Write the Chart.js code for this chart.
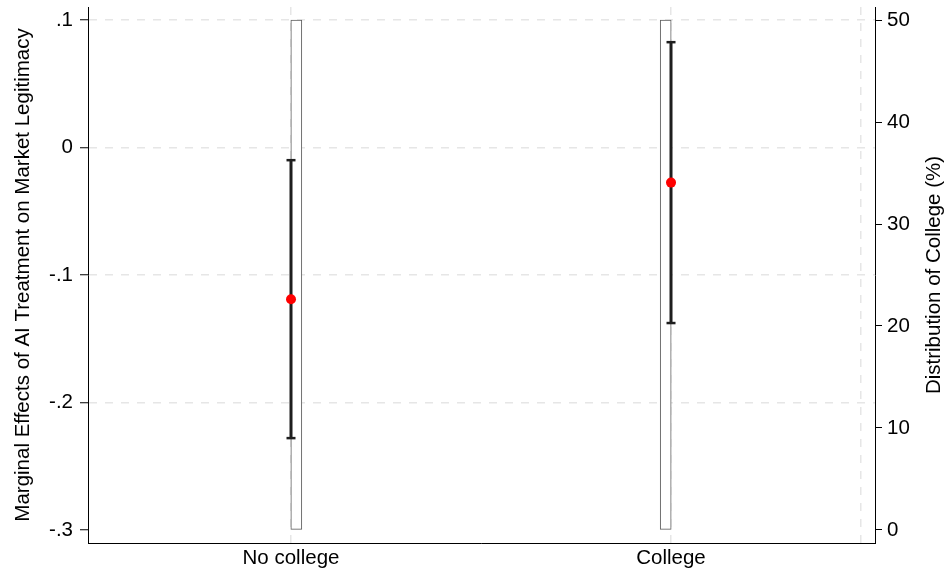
<!DOCTYPE html>
<html>
<head>
<meta charset="utf-8">
<script src="https://cdn.jsdelivr.net/npm/chart.js@4"></script>
<style>
  html, body { margin: 0; padding: 0; background: #fff; }
  canvas { display: block; }
</style>
</head>
<body>
<canvas id="chart" width="951" height="571"></canvas>
<script>
// Marginal effects by education group, with the sample share of each group
const categories = ['No college', 'College'];
const categoryX = [0, 1];
const estimates = [-0.119, -0.0275];
const ciLower = [-0.228, -0.1377];
const ciUpper = [-0.0099, 0.0827];

// Share of respondents in each group (%), drawn as thin histogram bars
const histX = [0.014, 0.986];
const sharePct = [50, 50];

// Axis ticks
const effectTicks = [-0.3, -0.2, -0.1, 0, 0.1];
const effectTickLabels = ['-.3', '-.2', '-.1', '0', '.1'];
const shareTicks = [0, 10, 20, 30, 40, 50];
const xGridValues = [0, 1, 1.5];
const xTickLabels = ['No college', 'College', ''];

const leftTitle = 'Marginal Effects of AI Treatment on Market Legitimacy';
const rightTitle = 'Distribution of College (%)';

const FONT = '"Liberation Sans", Arial, Helvetica, sans-serif';
const TEXT = '#000';
const GRID = '#e6e6e6';
const tickFont = { family: FONT, size: 20.5 };

const ciDatasets = categoryX.map((x, i) => ({
  type: 'line',
  data: [{ x: x, y: ciLower[i] }, { x: x, y: ciUpper[i] }],
  yAxisID: 'y',
  borderColor: '#1e1e1e',
  borderWidth: 3,
  pointStyle: 'line',
  pointRadius: 4.5,
  pointBorderWidth: 2.5,
  pointBorderColor: '#1e1e1e',
  pointHoverRadius: 4.5,
  order: 2
}));

// Rotated axis titles, both reading bottom-to-top
const axisTitles = {
  id: 'axisTitles',
  afterDraw(chart) {
    const { ctx, chartArea } = chart;
    const cy = (chartArea.top + chartArea.bottom) / 2;
    ctx.save();
    ctx.fillStyle = TEXT;
    ctx.font = '20.5px ' + FONT;
    ctx.textAlign = 'center';
    ctx.textBaseline = 'alphabetic';
    [[28.5, leftTitle], [940, rightTitle]].forEach(([bx, text]) => {
      ctx.save();
      ctx.translate(bx, cy);
      ctx.rotate(-Math.PI / 2);
      ctx.fillText(text, 0, 0);
      ctx.restore();
    });
    ctx.restore();
  }
};

new Chart(document.getElementById('chart'), {
  type: 'bar',
  data: {
    datasets: [
      {
        type: 'bar',
        data: histX.map((x, i) => ({ x: x, y: sharePct[i] })),
        yAxisID: 'y2',
        backgroundColor: '#ffffff',
        borderColor: '#5e5e5e',
        borderWidth: 1,
        borderSkipped: false,
        barThickness: 11,
        order: 3
      },
      ...ciDatasets,
      {
        type: 'scatter',
        data: categoryX.map((x, i) => ({ x: x, y: estimates[i] })),
        yAxisID: 'y',
        pointRadius: 5,
        pointHoverRadius: 5,
        backgroundColor: '#ff0000',
        borderWidth: 0,
        order: 1
      }
    ]
  },
  options: {
    responsive: false,
    animation: false,
    devicePixelRatio: 1,
    layout: { padding: { top: 7, left: 0, right: 0, bottom: 0 } },
    plugins: { legend: { display: false }, tooltip: { enabled: false } },
    scales: {
      x: {
        type: 'linear',
        min: -0.5342,
        max: 1.5368,
        offset: false,
        afterBuildTicks: s => { s.ticks = xGridValues.map(v => ({ value: v })); },
        afterFit: s => { s.height = 28; s.paddingLeft = 0; s.paddingRight = 0; },
        grid: { offset: false, color: GRID, lineWidth: 1.5, drawTicks: false },
        border: { display: true, color: '#000', width: 1, dash: [8, 8] },
        ticks: {
          autoSkip: false,
          maxRotation: 0,
          padding: 3,
          color: TEXT,
          font: tickFont,
          callback: (v, i) => xTickLabels[i]
        }
      },
      y: {
        type: 'linear',
        position: 'left',
        min: -0.3103,
        max: 0.1103,
        afterBuildTicks: s => { s.ticks = effectTicks.map(v => ({ value: v })); },
        afterFit: s => { s.width = 88; s.paddingTop = 0; s.paddingBottom = 0; },
        grid: {
          color: c => (c.tick && c.tick.value < -0.29) ? 'rgba(0,0,0,0)' : GRID,
          lineWidth: 1.5,
          tickColor: '#000',
          tickWidth: 1,
          tickLength: 8
        },
        border: { display: true, color: '#000', width: 1, dash: [8, 8] },
        ticks: {
          padding: 7,
          color: TEXT,
          font: tickFont,
          callback: (v, i) => effectTickLabels[i]
        }
      },
      y2: {
        type: 'linear',
        position: 'right',
        min: -1.29,
        max: 51.29,
        afterBuildTicks: s => { s.ticks = shareTicks.map(v => ({ value: v })); },
        afterFit: s => { s.width = 76; s.paddingTop = 0; s.paddingBottom = 0; },
        grid: {
          drawOnChartArea: false,
          tickColor: '#000',
          tickWidth: 1,
          tickLength: 7
        },
        border: { display: true, color: '#000', width: 1 },
        ticks: {
          padding: 5,
          color: TEXT,
          font: tickFont,
          callback: v => String(v)
        }
      }
    }
  },
  plugins: [axisTitles]
});
</script>
</body>
</html>
